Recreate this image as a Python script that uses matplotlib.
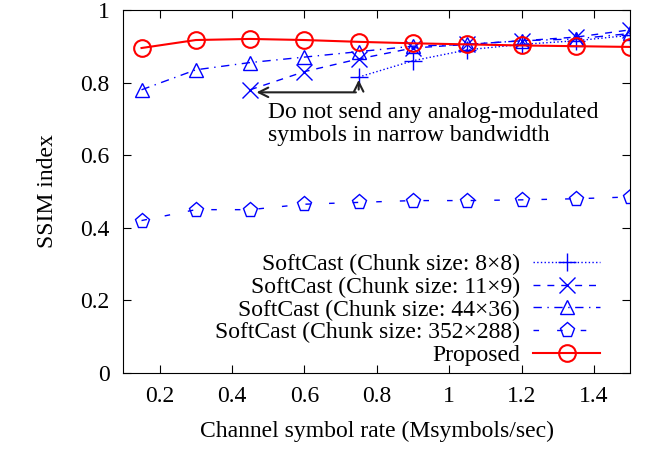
import numpy as np
import matplotlib.pyplot as plt

plt.rcParams['font.family'] = ['Liberation Serif', 'DejaVu Serif']
plt.rcParams['font.size'] = 17

rate = [0.15, 0.3, 0.45, 0.6, 0.75, 0.9, 1.05, 1.2, 1.35, 1.5]
ssim_8x8 = [0.815, 0.86, 0.89, 0.905, 0.915, 0.93]          # starts at 0.75
ssim_11x9 = [0.78, 0.83, 0.865, 0.895, 0.905, 0.915, 0.925, 0.945]  # starts at 0.45
ssim_44x36 = [0.78, 0.835, 0.855, 0.87, 0.885, 0.9, 0.905, 0.915, 0.92, 0.935]
ssim_352x288 = [0.42, 0.45, 0.45, 0.465, 0.47, 0.475, 0.475, 0.477, 0.48, 0.485]
ssim_proposed = [0.895, 0.917, 0.92, 0.917, 0.912, 0.908, 0.905, 0.902, 0.9, 0.898]

labels = ['SoftCast (Chunk size: 8\u00d78)', 'SoftCast (Chunk size: 11\u00d79)',
          'SoftCast (Chunk size: 44\u00d736)', 'SoftCast (Chunk size: 352\u00d7288)',
          'Proposed']

fig, ax = plt.subplots(figsize=(6.53, 4.49), dpi=100)
fig.subplots_adjust(left=0.189, right=0.965, bottom=0.169, top=0.978)

blue = '#0000ff'
ax.plot(rate[4:], ssim_8x8, color=blue, ls=':', lw=1, marker='+', ms=13, mew=1, label=labels[0])
ax.plot(rate[2:], ssim_11x9, color=blue, ls=(0, (5, 5)), lw=1, marker='x', ms=11, mew=1, label=labels[1])
ax.plot(rate, ssim_44x36, color=blue, ls=(0, (6, 4, 1, 4)), lw=1, marker='^', ms=10, mew=1,
        mfc='none', label=labels[2])
ax.plot(rate, ssim_352x288, color=blue, ls=(0, (4, 13)), lw=1, marker='p', ms=11, mew=1,
        mfc='none', label=labels[3])
ax.plot(rate, ssim_proposed, color='red', ls='-', lw=1.5, marker='o', ms=12, mew=1.5,
        mfc='none', label=labels[4])

# annotation arrows
ax.annotate('', xy=(0.46, 0.773), xytext=(0.75, 0.773),
            arrowprops=dict(arrowstyle='->', color='#222222', lw=1.5))
ax.annotate('', xy=(0.75, 0.815), xytext=(0.75, 0.773),
            arrowprops=dict(arrowstyle='->', color='#222222', lw=1.5))
ax.text(0.5, 0.685, 'Do not send any analog-modulated\nsymbols in narrow bandwidth',
        ha='left', va='center', linespacing=1.15)

ax.set_xlim(0.1, 1.5)
ax.set_ylim(0, 1)
ax.set_xticks([0.2, 0.4, 0.6, 0.8, 1.0, 1.2, 1.4])
ax.set_xticklabels(['0.2', '0.4', '0.6', '0.8', '1', '1.2', '1.4'])
ax.set_yticks([0, 0.2, 0.4, 0.6, 0.8, 1])
ax.set_yticklabels(['0', '0.2', '0.4', '0.6', '0.8', '1'])
ax.tick_params(direction='in', top=True, right=True, length=6)
ax.tick_params(axis='y', pad=10)
ax.tick_params(axis='x', pad=9)
ax.set_xlabel('Channel symbol rate (Msymbols/sec)', labelpad=10)
ax.set_ylabel('SSIM index', labelpad=16)

ax.legend(loc='lower right', frameon=False, markerfirst=False, handlelength=2.85,
          handletextpad=0.55, labelspacing=0.05, borderaxespad=0.0, borderpad=0.3,
          bbox_to_anchor=(0.955, 0.0))

fig.savefig('out.png', dpi=100)
